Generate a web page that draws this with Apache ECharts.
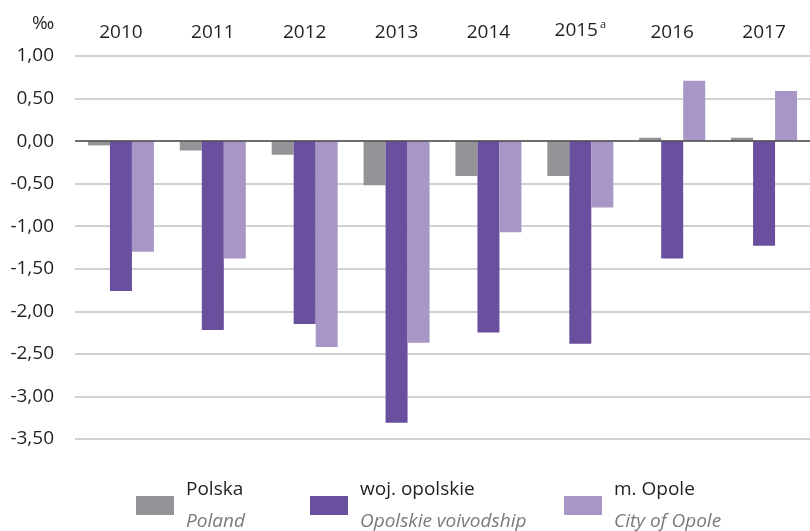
<!DOCTYPE html>
<html>
<head>
<meta charset="utf-8">
<script src="https://cdn.jsdelivr.net/npm/echarts@6/dist/echarts.min.js"></script>
<style>
    html, body { margin: 0; padding: 0; background: #fff; }
    #chart { width: 810px; height: 531px; }
</style>
</head>
<body>
<div id="chart"></div>
<script>
// lata (kategorie) i przypisy
var years = ['2010', '2011', '2012', '2013', '2014', '2015', '2016', '2017'];
var yearNotes = {'2015': 'a'};

// saldo migracji, ‰
var polska = [-0.05, -0.11, -0.16, -0.52, -0.41, -0.41, 0.04, 0.04];
var wojOpolskie = [-1.76, -2.22, -2.15, -3.31, -2.25, -2.38, -1.38, -1.23];
var mOpole = [-1.30, -1.38, -2.42, -2.37, -1.07, -0.78, 0.71, 0.59];

// legenda: nazwa PL -> nazwa EN
var seriesNames = ['Polska', 'woj. opolskie', 'm. Opole'];
var seriesNamesEn = ['Poland', 'Opolskie voivodship', 'City of Opole'];
var legendLeft = [131, 305, 559];

var colors = ['#939498', '#6a4f9e', '#a897c6'];
var font = 'Open Sans';

var chart = echarts.init(document.getElementById('chart'));

/**
 * jedna legenda na serię (nierówne odstępy)
 */
function makeLegend(i) {
    return {
        left: legendLeft[i],
        top: 475,
        orient: 'horizontal',
        itemWidth: 38,
        itemHeight: 19,
        icon: 'rect',
        selectedMode: false,
        data: [seriesNames[i]],
        formatter: function (name) {
            var k = seriesNames.indexOf(name);
            return '{a|' + name + '}\n{b|' + seriesNamesEn[k] + '}';
        },
        textStyle: {
            rich: {
                a: {fontFamily: font, fontSize: 19, color: '#231f20', lineHeight: 32, padding: [0, 0, 0, 7]},
                b: {fontFamily: font, fontSize: 19, fontStyle: 'italic', color: '#7a7a7a', lineHeight: 32, padding: [0, 0, 0, 7]}
            }
        }
    };
}

function makeSeries(i, data) {
    var s = {
        name: seriesNames[i],
        type: 'bar',
        barWidth: 22,
        barGap: '0%',
        data: data,
        itemStyle: {color: colors[i]}
    };
    return s;
}

var series = [
    makeSeries(0, polska),
    makeSeries(1, wojOpolskie),
    makeSeries(2, mOpole)
];
// linia zera
series[0].markLine = {
    silent: true,
    symbol: 'none',
    label: {show: false},
    lineStyle: {color: '#4d4d4d', width: 1.5, type: 'solid'},
    data: [{yAxis: 0}]
};

chart.setOption({
    animation: false,
    backgroundColor: '#ffffff',
    title: {
        text: '‰',
        left: 27,
        top: 9,
        textStyle: {fontFamily: font, fontSize: 19, fontWeight: 'normal', color: '#231f20'}
    },
    legend: [makeLegend(0), makeLegend(1), makeLegend(2)],
    grid: {
        left: 75,
        top: 56,
        width: 749,
        height: 383,
        containLabel: false
    },
    xAxis: {
        type: 'category',
        position: 'top',
        data: years,
        axisLine: {show: false},
        axisTick: {show: false},
        axisLabel: {
            margin: 14,
            formatter: function (v) {
                if (yearNotes[v]) {
                    return '{y|' + v + '}{s|' + yearNotes[v] + '}';
                }
                return '{y|' + v + '}';
            },
            rich: {
                y: {fontFamily: font, fontSize: 19, color: '#231f20'},
                s: {fontFamily: font, fontSize: 11, color: '#231f20', verticalAlign: 'top', padding: [0, 0, 12, 2]}
            }
        }
    },
    yAxis: {
        type: 'value',
        min: -3.5,
        max: 1,
        interval: 0.5,
        axisLine: {show: false},
        axisTick: {show: false},
        axisLabel: {
            margin: 21,
            fontFamily: font,
            fontSize: 19,
            color: '#231f20',
            formatter: function (v) {
                return v.toFixed(2).replace('.', ',');
            }
        },
        splitLine: {lineStyle: {color: '#c2c2c2', width: 1.5}}
    },
    series: series
});
</script>
</body>
</html>
